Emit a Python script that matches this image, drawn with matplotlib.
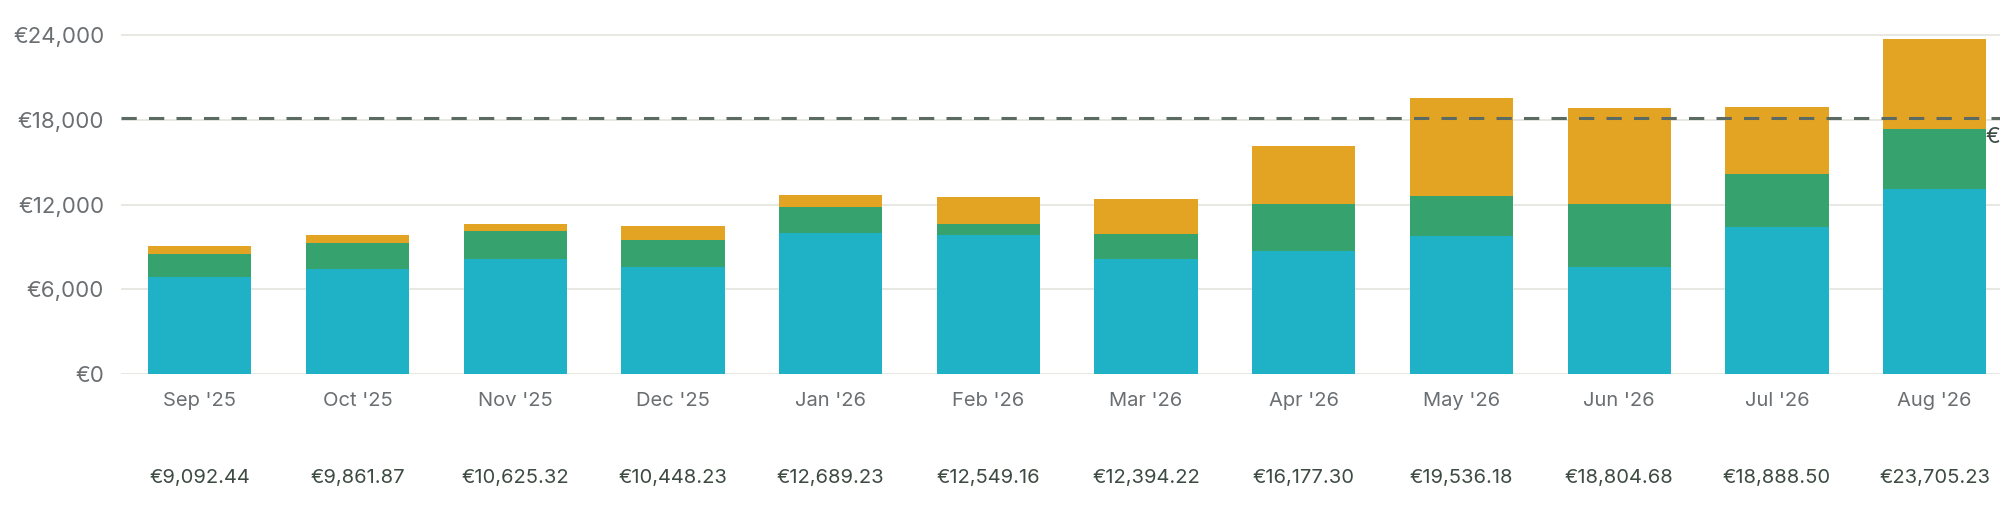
import numpy as np
import matplotlib
matplotlib.use("Agg")
import matplotlib.pyplot as plt
import matplotlib.transforms as mtransforms

# monthly values
months = ["Sep '25", "Oct '25", "Nov '25", "Dec '25", "Jan '26", "Feb '26",
          "Mar '26", "Apr '26", "May '26", "Jun '26", "Jul '26", "Aug '26"]
teal = [6840, 7450, 8115, 7600, 10000, 9840, 8160, 8705, 9780, 7600, 10380, 13070]
green = [1650, 1840, 2030, 1885, 1800, 800, 1725, 3300, 2815, 4455, 3775, 4295]
orange = [600, 570, 480, 965, 890, 1910, 2510, 4170, 6940, 6750, 4735, 6340]
totals = ["€9,092.44", "€9,861.87", "€10,625.32", "€10,448.23", "€12,689.23",
          "€12,549.16", "€12,394.22", "€16,177.30", "€19,536.18", "€18,804.68",
          "€18,888.50", "€23,705.23"]
target = 18140
target_label = "€18,140"
yticks = [0, 6000, 12000, 18000, 24000]
ytick_labels = ["€0", "€6,000", "€12,000", "€18,000", "€24,000"]

plt.rcParams["font.family"] = ["Inter", "DejaVu Sans"]

fig = plt.figure(figsize=(20, 5.05), dpi=100)
ax = fig.add_axes([121 / 2000, 1 - 374 / 505, 1 - 121 / 2000, (374 - 30) / 505])

x = np.arange(len(months))
w = 0.655
ax.bar(x, teal, w, color="#1fb2c6", linewidth=0, zorder=3)
ax.bar(x, green, w, bottom=teal, color="#36a36e", linewidth=0, zorder=3)
bottom2 = np.array(teal) + np.array(green)
ax.bar(x, orange, w, bottom=bottom2, color="#e3a424", linewidth=0, zorder=3)

# target line, its label runs off the right edge like in the original
ax.axhline(target, color="#5b6b63", linestyle=(0, (5, 4)), linewidth=2.2, zorder=4)
ax.annotate(target_label, xy=(11.32, target), xytext=(0, -7), textcoords="offset points",
            va="top", ha="left", fontsize=16, color="#3b4b43", annotation_clip=False)

ax.set_xlim(-0.5, 11.415)
ax.set_ylim(0, 24354)
ax.set_yticks(yticks)
ax.set_yticklabels(ytick_labels)
ax.set_xticks(x)
ax.set_xticklabels(months)
ax.tick_params(axis="both", length=0, colors="#6b6f72")
ax.tick_params(axis="y", pad=12, labelsize=16)
ax.tick_params(axis="x", pad=13, labelsize=14.5)
ax.grid(axis="y", color="#e6e6e0", linewidth=1.3, zorder=0)
for s in ax.spines.values():
    s.set_visible(False)

# monthly totals under the axis
trans = mtransforms.blended_transform_factory(ax.transData, ax.transAxes)
for i, t in enumerate(totals):
    ax.text(i, (374 - 478) / 344, t, transform=trans, ha="center", va="center",
            fontsize=14.5, color="#3d4b42")

fig.savefig("out.png", dpi=100, facecolor="white")
